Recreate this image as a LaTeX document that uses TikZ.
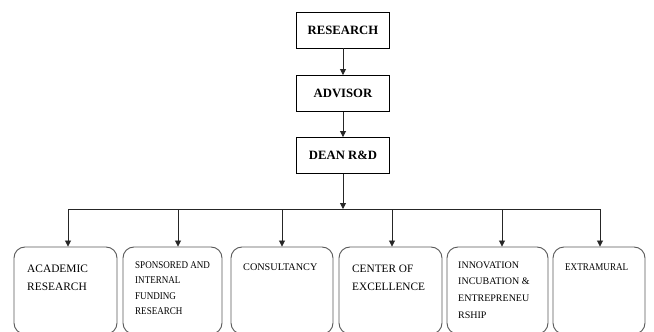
\documentclass[tikz,border=0pt]{standalone}
\usepackage{fontspec}
\setmainfont{Liberation Serif}
\newfontfamily\condfont[FakeStretch=0.88]{Liberation Serif}
\usetikzlibrary{arrows.meta}
\begin{document}
\begin{tikzpicture}[x=1pt,y=-1pt,
  topbox/.style={draw=black,line width=0.9pt,minimum width=93pt,minimum height=36pt,inner sep=0pt,
    font=\fontsize{12.7}{14}\selectfont\bfseries},
  unitbox/.style={draw=black!65,line width=0.9pt,rounded corners=11pt,minimum height=87pt,inner sep=0pt},
  unittext/.style={anchor=north west,inner sep=0pt,align=left},
  conn/.style={draw=black!85,line width=0.8pt},
  arr/.style={conn,-{Triangle[length=6pt,width=6pt]}}]
\useasboundingbox (0,0) rectangle (654,332);
\fill[white] (0,0) rectangle (654,332);
% top chain
\node[topbox] (research) at (343,30) {RESEARCH};
\node[topbox] (advisor) at (343,93.5) {ADVISOR};
\node[topbox] (dean) at (343,155.5) {DEAN R\&D};
\draw[arr] (research) -- (advisor);
\draw[arr] (advisor) -- (dean);
% branch line
\coordinate (hub) at (343,209);
\coordinate (h1) at (68,209);
\coordinate (h2) at (178,209);
\coordinate (h3) at (282,209);
\coordinate (h4) at (392,209);
\coordinate (h5) at (502,209);
\coordinate (h6) at (600,209);
\draw[conn] (h1) -- (h6);
\draw[arr] (dean) -- (hub);
% unit boxes
\node[unitbox,minimum width=103pt] (b1) at (65.5,290.5) {};
\node[unitbox,minimum width=99pt] (b2) at (172.5,290.5) {};
\node[unitbox,minimum width=102pt] (b3) at (282,290.5) {};
\node[unitbox,minimum width=103pt] (b4) at (390.5,290.5) {};
\node[unitbox,minimum width=101pt] (b5) at (497.5,290.5) {};
\node[unitbox,minimum width=92pt] (b6) at (599,290.5) {};
\foreach \i in {1,...,6}{\draw[arr] (h\i) -- (h\i |- b\i.north);}
% unit texts
\node[unittext,font=\fontsize{11.4}{18}\selectfont] (t1) at (27,264.5) {ACADEMIC\\RESEARCH};
\node[unittext,font=\condfont\fontsize{10.3}{15.5}\selectfont] (t2) at (135,261.3) {SPONSORED AND\\INTERNAL\\FUNDING\\RESEARCH};
\node[unittext,font=\fontsize{10.2}{15}\selectfont] (t3) at (243,263.2) {CONSULTANCY};
\node[unittext,font=\fontsize{11.3}{18}\selectfont] (t4) at (352,264.5) {CENTER OF\\EXCELLENCE};
\node[unittext,font=\fontsize{10}{16.7}\selectfont] (t5) at (458,261.3) {INNOVATION\\INCUBATION \&\\ENTREPRENEU\\RSHIP};
\node[unittext,font=\condfont\fontsize{10.3}{15}\selectfont] (t6) at (565,263.2) {EXTRAMURAL};
\end{tikzpicture}
\end{document}
